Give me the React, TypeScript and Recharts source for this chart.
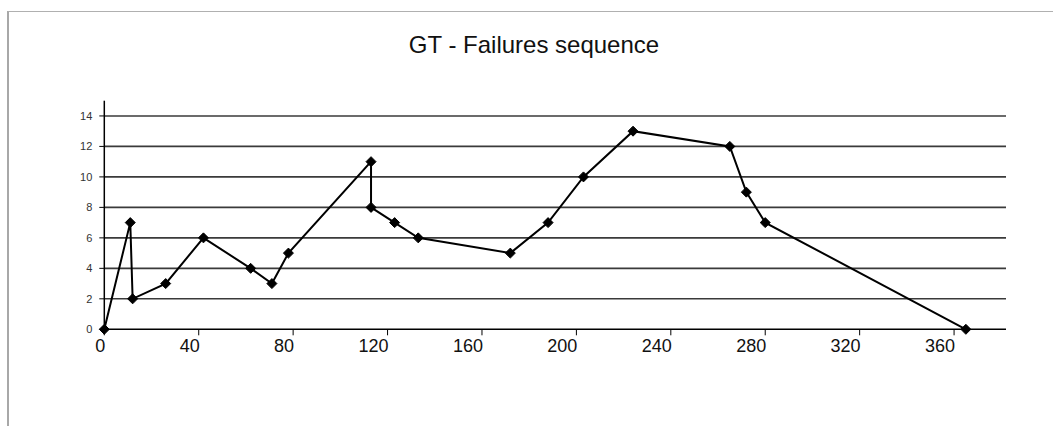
import React from "react";
import { LineChart, Line, XAxis, YAxis, CartesianGrid } from "recharts";

const titleText = "GT - Failures sequence";
const daysX = [0, 11, 12, 26, 42, 62, 71, 78, 113, 113, 123, 133, 172, 188, 203, 224, 265, 272, 280, 365];
const failuresY = [0, 7, 2, 3, 6, 4, 3, 5, 11, 8, 7, 6, 5, 7, 10, 13, 12, 9, 7, 0];
const xTicks = [0, 40, 80, 120, 160, 200, 240, 280, 320, 360];
const yTicks = [0, 2, 4, 6, 8, 10, 12, 14];
const yMax = 15;

const data = daysX.map((x, i) => ({ x, y: failuresY[i] }));

const FONT = "'Liberation Sans', Arial, sans-serif";

const Diamond = (props: any) => {
  const { cx, cy } = props;
  if (cx == null || cy == null) return null;
  const s = 5;
  return (
    <polygon
      points={`${cx},${cy - s} ${cx + s},${cy} ${cx},${cy + s} ${cx - s},${cy}`}
      fill="#000"
      stroke="#000"
      strokeWidth={1}
    />
  );
};

const XTick = (props: any) => {
  const { x, y, payload } = props;
  return (
    <text x={x + 1} y={y} dy={15} textAnchor="end" fontSize={18} fontFamily={FONT} fill="#111">
      {payload.value}
    </text>
  );
};

const YTick = (props: any) => {
  const { x, y, payload } = props;
  return (
    <text x={x} y={y} dy={4} textAnchor="end" fontSize={11} fontFamily={FONT} fill="#333">
      {payload.value}
    </text>
  );
};

const gridRows = (args: any) => {
  const scale = args?.yAxis?.scale;
  let f: ((v: number) => number) | null = null;
  if (typeof scale === "function") f = scale;
  else if (scale && typeof scale.map === "function") f = (v: number) => scale.map(v);
  if (!f) {
    const off = args?.offset;
    if (!off) return [];
    f = (v: number) => off.top + off.height * (1 - v / yMax);
  }
  return yTicks.filter((t) => t > 0).map((t) => f!(t));
};

export default function App() {
  return (
    <div style={{ position: "absolute", left: 0, top: 0, width: 1053, height: 426, background: "#fff", overflow: "hidden" }}>
      <div
        style={{
          position: "absolute",
          left: 7,
          top: 11,
          width: 1053,
          height: 426,
          borderTop: "1.5px solid #b0b0b0",
          borderLeft: "2px solid #a8a8a8",
        }}
      />
      <svg style={{ position: "absolute", left: 0, top: 0 }} width={1053} height={80}>
        <text x={534} y={53} textAnchor="middle" fontSize={24} fontFamily={FONT} fill="#111">
          {titleText}
        </text>
      </svg>
      <div style={{ position: "absolute", left: 0, top: 0 }}>
        <LineChart
          width={1053}
          height={426}
          data={data}
          margin={{ top: 100.7, right: 47, bottom: 66.7, left: 0 }}
        >
          <CartesianGrid
            horizontal
            vertical={false}
            stroke="#3a3a3a"
            strokeWidth={1.6}
            horizontalCoordinatesGenerator={gridRows}
          />
          <XAxis
            dataKey="x"
            type="number"
            domain={[0, 382]}
            ticks={xTicks}
            interval={0}
            height={30}
            tickSize={6}
            tickMargin={2}
            axisLine={{ stroke: "#000", strokeWidth: 1.5 }}
            tickLine={{ stroke: "#000" }}
            tick={<XTick />}
          />
          <YAxis
            type="number"
            domain={[0, yMax]}
            ticks={yTicks}
            interval={0}
            width={104.3}
            tickSize={5}
            tickMargin={7}
            axisLine={{ stroke: "#000", strokeWidth: 1.5 }}
            tickLine={{ stroke: "#000" }}
            tick={<YTick />}
          />
          <Line
            type="linear"
            dataKey="y"
            stroke="#000"
            strokeWidth={2}
            dot={<Diamond />}
            activeDot={false}
            isAnimationActive={false}
          />
        </LineChart>
      </div>
    </div>
  );
}
